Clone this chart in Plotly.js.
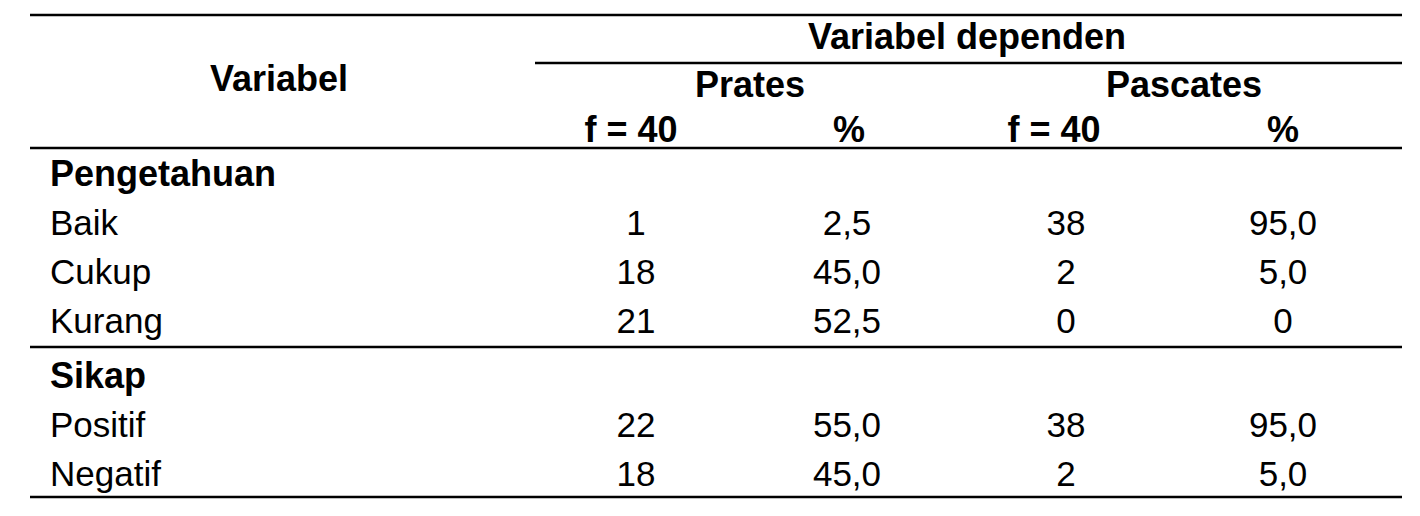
<!DOCTYPE html>
<html>
<head>
<meta charset="utf-8">
<script src="https://cdn.plot.ly/plotly-3.0.1.min.js"></script>
<style>
  html, body { margin: 0; padding: 0; background: #fff; }
  #chart { width: 1420px; height: 516px; }
</style>
</head>
<body>
<div id="chart"></div>
<script>
/******************** DATA ********************/
const groups        = ["Pengetahuan", "Sikap"];
const categories    = ["Baik", "Cukup", "Kurang", "Positif", "Negatif"];
const categoryGroup = [0, 0, 0, 1, 1];          // which group each category belongs to
const pratesF       = [1, 18, 21, 22, 18];
const pratesPct     = [2.5, 45.0, 52.5, 55.0, 45.0];
const pascatesF     = [38, 2, 0, 38, 2];
const pascatesPct   = [95.0, 5.0, 0, 95.0, 5.0];

const headTop    = "Variabel dependen";
const headVar    = "Variabel";
const headPhases = ["Prates", "Pascates"];
const headSub    = ["f = 40", "%", "f = 40", "%"];

/******************** LAYOUT CONSTANTS ********************/
const W = 1420, H = 516;
const colX      = [636, 847, 1066, 1283];   // centres of the 4 value columns
const subHeadX  = [631, 849, 1054, 1283];   // centres of the sub headers
const phaseX    = [750, 1184];
const labelX    = 50;                       // left edge of the first column
const tableL    = 30, tableR = 1402;
const rowH      = 49;
const bodyTop   = 177;                      // first body row centre
const sectionGap = 6;

const textFont = "Liberation Sans, Arial, sans-serif";
const regSize  = 35;
const boldSize = 36;

// Percent in Indonesian notation (comma decimal, plain 0)
const fmtPct = v => v === 0 ? "0" : v.toFixed(1).replace(".", ",");

/******************** BUILD ROWS ********************/
// every body line: group header then its categories
let rows = [];
groups.forEach((g, gi) => {
  rows.push({ label: g, bold: true, idx: -1, group: gi });
  categories.forEach((c, ci) => {
    if (categoryGroup[ci] === gi) rows.push({ label: c, bold: false, idx: ci, group: gi });
  });
});
let rowY = rows.map((r, i) => bodyTop + i * rowH + (r.group > 0 ? sectionGap : 0));

/******************** TRACES ********************/
const labelTraceReg = {
  x: [], y: [], text: [], mode: "text", type: "scatter",
  textposition: "middle right", hoverinfo: "skip",
  textfont: { family: textFont, size: regSize, color: "#000" }
};
const labelTraceBold = {
  x: [], y: [], text: [], mode: "text", type: "scatter",
  textposition: "middle right", hoverinfo: "skip",
  textfont: { family: textFont, size: boldSize, color: "#000", weight: "bold" }
};
const valueTrace = {
  x: [], y: [], text: [], mode: "text", type: "scatter",
  textposition: "middle center", hoverinfo: "skip",
  textfont: { family: textFont, size: regSize, color: "#000" }
};

rows.forEach((r, i) => {
  const tr = r.bold ? labelTraceBold : labelTraceReg;
  tr.x.push(labelX); tr.y.push(rowY[i]); tr.text.push(r.label);
  if (r.idx >= 0) {
    const vals = [
      String(pratesF[r.idx]), fmtPct(pratesPct[r.idx]),
      String(pascatesF[r.idx]), fmtPct(pascatesPct[r.idx])
    ];
    vals.forEach((v, k) => {
      valueTrace.x.push(colX[k]); valueTrace.y.push(rowY[i]); valueTrace.text.push(v);
    });
  }
});

// header block
const headRowY = [40, 88, 133];
const headerTrace = {
  x: [967, 279, ...phaseX, ...subHeadX],
  y: [headRowY[0], 82, headRowY[1], headRowY[1], ...subHeadX.map(() => headRowY[2])],
  text: [headTop, headVar, ...headPhases, ...headSub],
  mode: "text", type: "scatter", textposition: "middle center", hoverinfo: "skip",
  textfont: { family: textFont, size: boldSize, color: "#000", weight: "bold" }
};

/******************** RULES ********************/
const lastRowY    = rowY[rowY.length - 1];
const groupBreakY = rowY[rows.findIndex(r => r.group === 1)] - 32;
const hline = (x0, x1, y) => ({
  type: "line", xref: "x", yref: "y", x0: x0, x1: x1, y0: y, y1: y,
  line: { color: "#000", width: 2.5 }
});
const shapes = [
  hline(tableL, tableR, 15),
  hline(535, tableR, 63),
  hline(tableL, tableR, 148),
  hline(tableL, tableR, groupBreakY),
  hline(tableL, tableR, lastRowY + 20)
];

const layout = {
  width: W, height: H,
  margin: { l: 0, r: 0, t: 0, b: 0 },
  paper_bgcolor: "#fff", plot_bgcolor: "#fff",
  showlegend: false,
  xaxis: { range: [0, W], visible: false, fixedrange: true },
  yaxis: { range: [H, 0], visible: false, fixedrange: true },
  shapes: shapes
};

Plotly.newPlot("chart", [labelTraceReg, labelTraceBold, valueTrace, headerTrace], layout,
  { staticPlot: true, displayModeBar: false });
</script>
</body>
</html>
